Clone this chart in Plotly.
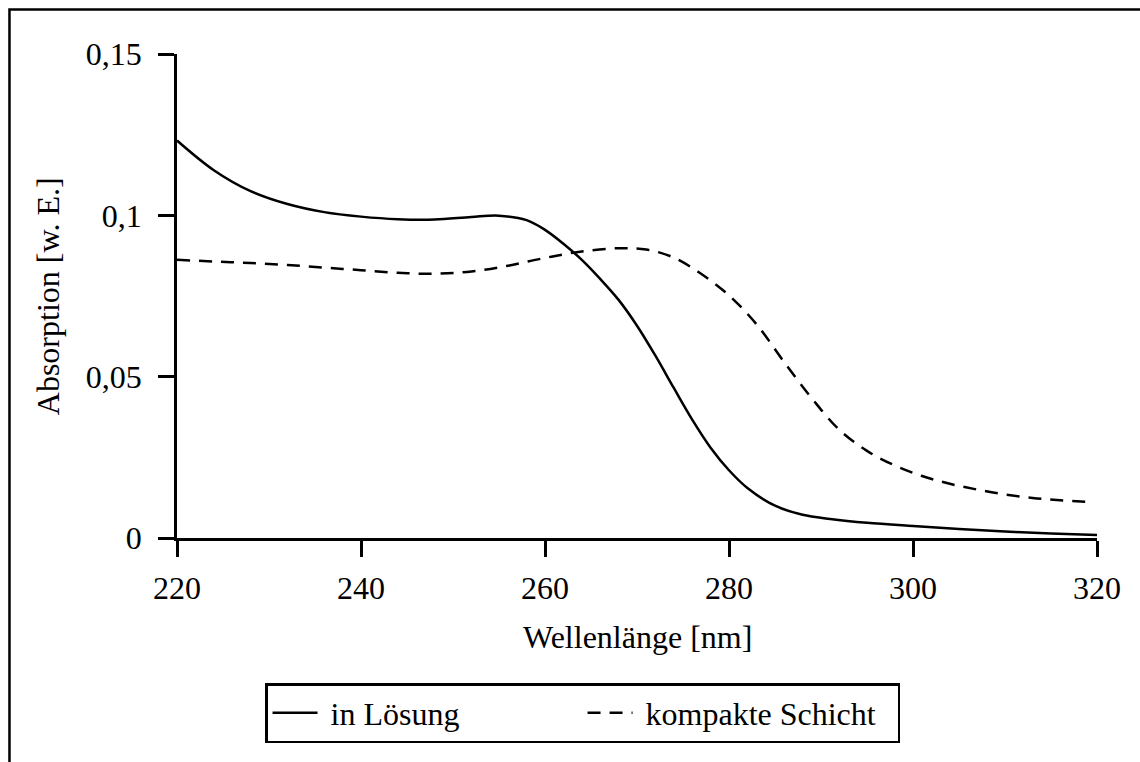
import plotly.graph_objects as go

# Absorption spectra: dissolved vs. compact layer
wl_loesung = [220, 224, 228, 232, 236, 240, 244, 248, 252, 255, 258, 260, 262,
              264, 266, 268, 270, 272, 274, 276, 278, 280, 282, 285, 288, 291,
              295, 300, 305, 310, 315, 320]
abs_loesung = [0.1232, 0.1140, 0.1075, 0.1035, 0.1010, 0.0996, 0.0988, 0.0987,
               0.0995, 0.0999, 0.0985, 0.0955, 0.0912, 0.0862, 0.0803, 0.0738,
               0.0658, 0.0565, 0.0465, 0.0367, 0.0280, 0.0210, 0.0155, 0.0100,
               0.0072, 0.0059, 0.0047, 0.0037, 0.0028, 0.0020, 0.0014, 0.0009]

wl_schicht = [220, 224, 228, 232, 236, 240, 244, 248, 252, 256, 260, 264, 268,
              271, 274, 277, 280, 283, 286, 289, 292, 295, 298, 301, 304, 307,
              310, 313, 316, 319.5]
abs_schicht = [0.0862, 0.0857, 0.0852, 0.0846, 0.0838, 0.0830, 0.0822, 0.0819,
               0.0826, 0.0844, 0.0868, 0.0888, 0.0898, 0.0894, 0.0869, 0.0818,
               0.0752, 0.0662, 0.0545, 0.0433, 0.0335, 0.0270, 0.0225, 0.0192,
               0.0168, 0.0150, 0.0135, 0.0124, 0.0117, 0.0111]

x_ticks = [220, 240, 260, 280, 300, 320]
y_ticks = [0, 0.05, 0.1, 0.15]
y_tick_text = ["0", "0,05", "0,1", "0,15"]

FONT = "Liberation Serif, Times New Roman, serif"
FS = 32
LW = 2.5

fig = go.Figure()
fig.add_trace(go.Scatter(
    x=wl_loesung, y=abs_loesung, mode="lines", name="\u2005in Lösung",
    line=dict(color="black", width=LW, shape="spline", smoothing=1.0),
))
fig.add_trace(go.Scatter(
    x=wl_schicht, y=abs_schicht, mode="lines", name="\u2005kompakte Schicht",
    line=dict(color="black", width=LW, dash="13px,9px", shape="spline", smoothing=1.0),
))

axis_common = dict(
    showline=True, linecolor="black", linewidth=LW,
    ticks="outside", ticklen=16, tickwidth=LW, tickcolor="black",
    showgrid=False, zeroline=False, mirror=False,
    tickfont=dict(family=FONT, size=FS, color="black"),
)

fig.update_xaxes(range=[220, 320], tickvals=x_ticks, ticklabelstandoff=4, **axis_common)
fig.update_yaxes(range=[0, 0.15], tickvals=y_ticks, ticktext=y_tick_text,
                 ticklabelstandoff=10, **axis_common)

fig.update_layout(
    width=1140, height=762,
    margin=dict(l=177, r=43, t=54, b=224, autoexpand=False),
    paper_bgcolor="white", plot_bgcolor="white",
    font=dict(family=FONT, size=FS, color="black"),
    showlegend=True,
    legend=dict(
        orientation="h", x=0.0957, y=-0.2996, xanchor="left", yanchor="top",
        bordercolor="black", borderwidth=LW, bgcolor="white",
        font=dict(family=FONT, size=FS, color="black"),
        itemwidth=45, entrywidth=255, entrywidthmode="pixels",
        tracegroupgap=0,
    ),
    annotations=[
        dict(text="Wellenlänge [nm]", xref="paper", yref="paper",
             x=0.5, y=-0.2045, xanchor="center", yanchor="middle",
             showarrow=False, font=dict(family=FONT, size=FS, color="black")),
        dict(text="Absorption [w. E.]", xref="paper", yref="paper",
             x=-0.14, y=0.5, xanchor="center", yanchor="middle", textangle=-90,
             showarrow=False, font=dict(family=FONT, size=FS, color="black")),
    ],
    shapes=[
        dict(type="rect", xref="paper", yref="paper",
             x0=-0.1821, x1=1.3, y0=-0.7, y1=1.0919,
             line=dict(color="black", width=LW), fillcolor="rgba(0,0,0,0)",
             layer="below"),
    ],
)

fig.write_html("out.html")
